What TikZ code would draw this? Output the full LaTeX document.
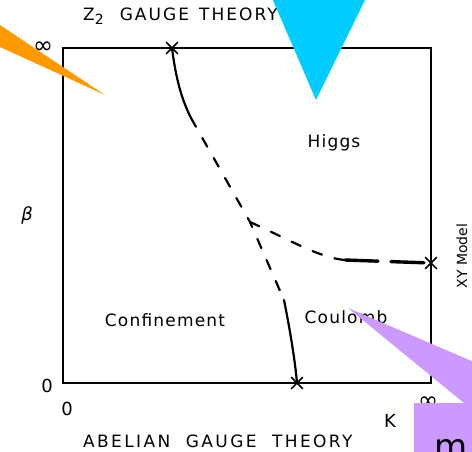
\documentclass[tikz,border=0pt]{standalone}
\usepackage{fontspec}
\usetikzlibrary{shapes.misc}
\newfontfamily\regfont[LetterSpace=7]{DejaVu Sans}
\newfontfamily\axisfont[LetterSpace=12]{DejaVu Sans}
\newfontfamily\abelfont[LetterSpace=14,WordSpace=2]{DejaVu Sans}
\newfontfamily\labfont{DejaVu Sans}
\definecolor{wedgeorange}{RGB}{255,153,0}
\definecolor{markcyan}{RGB}{0,204,255}
\definecolor{notepurple}{RGB}{204,153,255}
\begin{document}
\begin{tikzpicture}[x=1pt,y=-1pt,
  every node/.style={inner sep=0pt},
  phase/.style={line width=2.2pt,line cap=round},
  broken/.style={phase,dash pattern=on 10pt off 13pt},
  heavy/.style={phase,line width=3.4pt,dash pattern=on 33pt off 13pt},
  cross/.style={cross out,draw,line width=1.7pt,minimum size=10pt},
  region/.style={font=\regfont\fontsize{17}{17}\selectfont},
  axis/.style={font=\labfont\fontsize{18}{18}\selectfont}]
\useasboundingbox (0,0) rectangle (472,451);
\clip (0,0) rectangle (472,451);
\draw[line width=1.3pt] (63,48) rectangle (431,383);
\node[cross] (T) at (172,48) {};
\node[cross] (B) at (297,383) {};
\node[cross] (R) at (431,263) {};
\coordinate (a) at (191,118);
\coordinate (J) at (250,222);
\coordinate (b) at (284,300);
\coordinate (h) at (345,260);
\draw[phase] (T.center) .. controls (176,80) and (182,100) .. (a);
\draw[broken] (a) -- (J) -- (b);
\draw[phase] (b) .. controls (290,330) and (295,360) .. (B.center);
\draw[broken] (J) .. controls (290,240) and (320,258) .. (h);
\draw[heavy] (h) -- (R.center);
\node[region] (higgs) at (334,143) {Higgs};
\node[region] (conf) at (165,320) {Confinement};
\node[region] (coul) at (346,317) {Coulomb};
\node[font=\axisfont\fontsize{17}{17}\selectfont,anchor=base west] (ztitle) at (83,20)
  {Z\raisebox{-4pt}{\fontsize{14}{14}\selectfont 2}\hspace{16pt}GAUGE\hspace{10pt}THEORY};
\node[font=\abelfont\fontsize{17}{17}\selectfont,anchor=base west] (abel) at (83,447)
  {ABELIAN GAUGE THEORY};
\node[font=\labfont\fontsize{24}{24}\selectfont] (inftop) at (43,48) {∞};
\node[axis] (beta) at (27,215) {\itshape β};
\node[axis] (zerob) at (47,386) {0};
\node[axis] (zerok) at (67,409) {0};
\node[axis] (kay) at (390,421) {K};
\node[font=\labfont\fontsize{24}{24}\selectfont] (infk) at (428,403) {∞};
\node[font=\labfont\fontsize{14}{14}\selectfont,rotate=90,anchor=base] (xy) at (467,256) {XY Model};
\fill[wedgeorange] (0,25) -- (105,95) -- (0,47) -- cycle;
\fill[markcyan] (272,-2) -- (366,-2) -- (316,100) -- cycle;
\fill[notepurple] (348,308) -- (474,362) -- (474,453) -- (414,453) -- (414,403) -- (464,403) -- cycle;
\node[font=\labfont\fontsize{34}{34}\selectfont,anchor=base west] (mark) at (434,458) {m};
\end{tikzpicture}
\end{document}
